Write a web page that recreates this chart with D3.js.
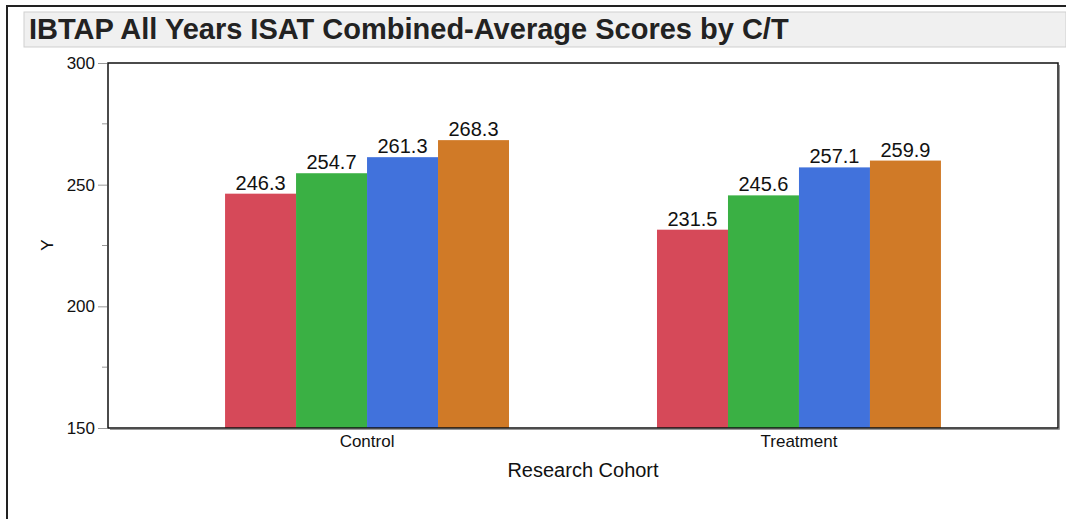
<!DOCTYPE html>
<html>
<head>
<meta charset="utf-8">
<script src="https://cdn.jsdelivr.net/npm/d3@7"></script>
<style>
  body { margin: 0; background: #fff; }
  svg { font-family: "Liberation Sans", Arial, Helvetica, sans-serif; }
</style>
</head>
<body>
<svg id="chart" width="1066" height="519"></svg>
<script>
// data
var cohorts = ["Control", "Treatment"];
var years = ["Y1", "Y2", "Y3", "Y4"];
var controlScores = [246.3, 254.7, 261.3, 268.3];
var treatmentScores = [231.5, 245.6, 257.1, 259.9];
var yTicks = [150, 200, 250, 300];
var yMinorTicks = [175, 225, 275];
var barColors = ["#d64959", "#3ab044", "#4172dc", "#d07a27"];

var rows = [
  { cohort: "Control", values: controlScores },
  { cohort: "Treatment", values: treatmentScores }
];

var svg = d3.select("#chart");

// outer frame (left + top)
svg.append("path")
    .attr("d", "M7,519 V6 H1066")
    .attr("fill", "none")
    .attr("stroke", "#222")
    .attr("stroke-width", 2);

// title bar
svg.append("rect")
    .attr("x", 24).attr("y", 12)
    .attr("width", 1042).attr("height", 35)
    .attr("fill", "#f0f0f0")
    .attr("stroke", "#cfcfcf");
svg.append("text")
    .attr("x", 29).attr("y", 39)
    .attr("font-size", "29px")
    .attr("font-weight", "bold")
    .attr("fill", "#222")
    .text("IBTAP All Years ISAT Combined-Average Scores by C/T");

var plotLeft = 108, plotRight = 1058, plotTop = 63, plotBottom = 428;

var x = d3.scaleBand()
    .domain(cohorts)
    .range([plotLeft, plotRight])
    .paddingInner(0.3426)
    .paddingOuter(0.271);

var xs = d3.scaleBand()
    .domain(years)
    .range([0, x.bandwidth()]);

var y = d3.scaleLinear()
    .domain([150, 300])
    .range([plotBottom, plotTop]);

// shadow of the frame
svg.append("path")
    .attr("d", "M" + (plotLeft + 2) + "," + (plotBottom + 1.5) + " H" + (plotRight + 1.5) + " V" + (plotTop + 2))
    .attr("fill", "none")
    .attr("stroke", "#999")
    .attr("stroke-width", 1);

var groups = svg.selectAll(".grp")
    .data(rows)
    .enter()
    .append("g")
    .attr("class", "grp")
    .attr("transform", function(d) { return "translate(" + x(d.cohort) + ",0)"; });

groups.selectAll("rect")
    .data(function(d) { return d.values; })
    .enter()
    .append("rect")
    .attr("x", function(d, i) { return xs(years[i]); })
    .attr("y", function(d) { return y(d); })
    .attr("width", xs.bandwidth())
    .attr("height", function(d) { return y(150) - y(d); })
    .attr("fill", function(d, i) { return barColors[i]; });

groups.selectAll("text")
    .data(function(d) { return d.values; })
    .enter()
    .append("text")
    .attr("x", function(d, i) { return xs(years[i]) + xs.bandwidth() / 2; })
    .attr("y", function(d) { return y(d) - 4; })
    .attr("text-anchor", "middle")
    .attr("font-size", "20px")
    .attr("fill", "#111")
    .text(function(d) { return d3.format(".1f")(d); });

// plot frame
svg.append("rect")
    .attr("x", plotLeft).attr("y", plotTop)
    .attr("width", plotRight - plotLeft).attr("height", plotBottom - plotTop)
    .attr("fill", "none")
    .attr("stroke", "#111")
    .attr("stroke-width", 1.5);

// y axis
var yAxis = svg.append("g")
    .attr("transform", "translate(" + (plotLeft - 1) + ",0)")
    .call(d3.axisLeft(y).tickValues(yTicks).tickSize(9).tickPadding(3));
yAxis.select(".domain").remove();
yAxis.selectAll(".tick line").attr("stroke", "#999");
yAxis.selectAll(".tick text")
    .attr("font-family", "Liberation Sans, Arial, sans-serif")
    .attr("font-size", "17px")
    .attr("fill", "#111");

svg.append("g")
    .selectAll("line")
    .data(yMinorTicks)
    .enter()
    .append("line")
    .attr("x1", plotLeft - 6).attr("x2", plotLeft - 1)
    .attr("y1", function(d) { return y(d); })
    .attr("y2", function(d) { return y(d); })
    .attr("stroke", "#999");

// x axis labels
svg.append("g")
    .selectAll("text")
    .data(cohorts)
    .enter()
    .append("text")
    .attr("x", function(d) { return x(d) + x.bandwidth() / 2; })
    .attr("y", 447)
    .attr("text-anchor", "middle")
    .attr("font-size", "17px")
    .attr("fill", "#111")
    .text(function(d) { return d; });

svg.append("text")
    .attr("x", 583)
    .attr("y", 477)
    .attr("text-anchor", "middle")
    .attr("font-size", "20px")
    .attr("fill", "#111")
    .text("Research Cohort");

svg.append("text")
    .attr("transform", "translate(53,245) rotate(-90)")
    .attr("text-anchor", "middle")
    .attr("font-size", "17px")
    .attr("fill", "#111")
    .text("Y");
</script>
</body>
</html>
